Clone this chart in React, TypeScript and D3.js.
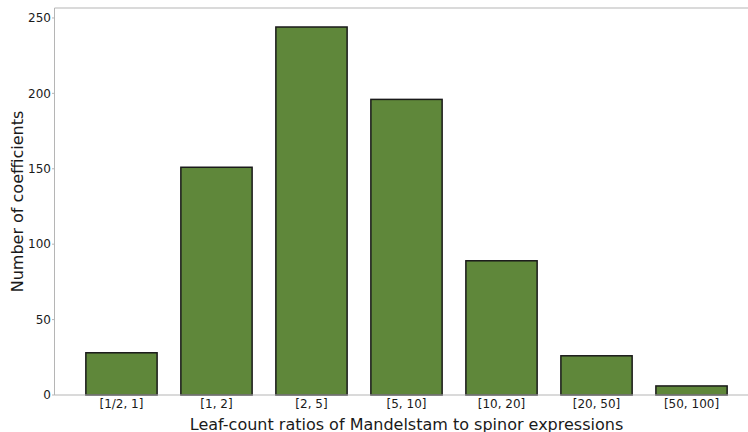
import React from "react";
import * as d3 from "d3";

const categories = ["[1/2, 1]", "[1, 2]", "[2, 5]", "[5, 10]", "[10, 20]", "[20, 50]", "[50, 100]"];
const counts = [28, 151, 244, 196, 89, 26, 6];
const yTicks = [0, 50, 100, 150, 200, 250];

const W = 748;
const H = 432;
const left = 54.5;
const right = 758.5;
const top = 8;
const bottom = 395;

export default function App() {
  const x = d3.scaleBand<string>().domain(categories).range([left, right]).paddingInner(0.25).paddingOuter(0.33);
  const y = d3.scaleLinear().domain([0, 256.6]).range([bottom, top]);
  const font = "'DejaVu Sans', sans-serif";
  return (
    <svg width={W} height={H} style={{ position: "absolute", left: 0, top: 0 }} fontFamily={font}>
      <rect width={W} height={H} fill="#fff" />
      {categories.map((c, i) => (
        <rect
          key={c}
          x={x(c)!}
          y={y(counts[i])}
          width={x.bandwidth()}
          height={y(0) - y(counts[i])}
          fill="#5f873a"
          stroke="#1a1a1a"
          strokeWidth={1.5}
        />
      ))}
      <line x1={left} x2={W} y1={top} y2={top} stroke="#b5b5b5" strokeWidth={1} />
      <line x1={left} x2={W} y1={bottom} y2={bottom} stroke="#b5b5b5" strokeWidth={1} />
      <line x1={left} x2={left} y1={top} y2={bottom} stroke="#b5b5b5" strokeWidth={1} />
      {yTicks.map((t) => (
        <g key={t}>
          <line x1={left - 2.5} x2={left} y1={y(t)} y2={y(t)} stroke="#b5b5b5" />
          <text x={51} y={y(t)} dy="0.35em" textAnchor="end" fontSize={12} fill="#1a1a1a">
            {t}
          </text>
        </g>
      ))}
      {categories.map((c) => (
        <text key={c} x={x(c)! + x.bandwidth() / 2} y={408} textAnchor="middle" fontSize={12} fill="#1a1a1a">
          {c}
        </text>
      ))}
      <text x={(left + right) / 2} y={430} textAnchor="middle" fontSize={16} fill="#1a1a1a">
        Leaf-count ratios of Mandelstam to spinor expressions
      </text>
      <text transform={`translate(23, ${(top + bottom) / 2}) rotate(-90)`} textAnchor="middle" fontSize={16} fill="#1a1a1a">
        Number of coefficients
      </text>
    </svg>
  );
}
